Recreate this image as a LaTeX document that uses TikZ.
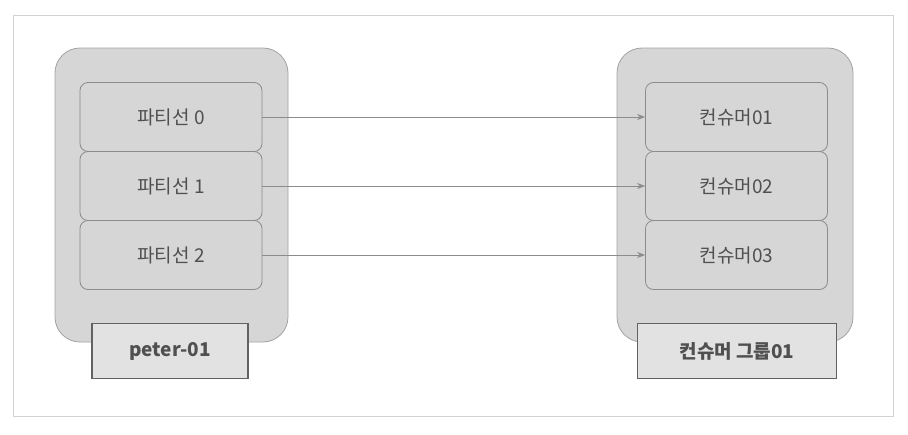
\documentclass[tikz,border=0pt]{standalone}
\usepackage{fontspec}
\setmainfont{Noto Sans CJK KR}
\definecolor{boxgray}{RGB}{214, 214, 214}
\definecolor{tagfill}{RGB}{226, 226, 226}
\definecolor{linegray}{RGB}{140, 140, 140}
\definecolor{textgray}{RGB}{80, 80, 80}
\usetikzlibrary{arrows.meta, positioning}

\begin{document}
\begin{tikzpicture}[x=1pt, y=-1pt,
    group/.style={draw=linegray!80, fill=boxgray, rounded corners=25pt, line width=0.8pt},
    slot/.style={draw=linegray, fill=boxgray, rounded corners=8pt, line width=0.8pt,
                 minimum width=182pt, minimum height=69pt, font=\fontsize{19}{22}\selectfont, text=textgray},
    tag/.style={draw=linegray!70!black, fill=tagfill, line width=1.3pt,
                minimum height=55pt, font=\fontsize{19}{22}\selectfont\bfseries, text=textgray},
    flow/.style={-{Stealth[length=8pt, width=6pt]}, draw=linegray, line width=0.7pt}]
                    \useasboundingbox (0, 0) rectangle (908, 434);
                    \draw[gray!35, line width=1pt] (13, 15) rectangle (893, 416);
                    % topic side
                    \draw[group] (55, 48) rectangle (288, 342);
                    \node[slot] (p0) at (171, 117) {파티선 0};
                    \node[slot] (p1) at (171, 186) {파티선 1};
                    \node[slot] (p2) at (171, 255) {파티선 2};
                    \node[tag, minimum width=156pt] (topic) at (170, 351) {peter-01};
                    % consumer group side
                    \draw[group] (617, 48) rectangle (853, 342);
                    \node[slot] (c1) at (736.5, 117) {컨슈머01};
                    \node[slot] (c2) at (736.5, 186) {컨슈머02};
                    \node[slot] (c3) at (736.5, 255) {컨슈머03};
                    \node[tag, minimum width=199pt] (cgroup) at (737, 351) {컨슈머 그룹01};
                    % partition to consumer
                    \draw[flow] (p0) -- (c1);
                    \draw[flow] (p1) -- (c2);
                    \draw[flow] (p2) -- (c3);
                \end{tikzpicture}
\end{document}
